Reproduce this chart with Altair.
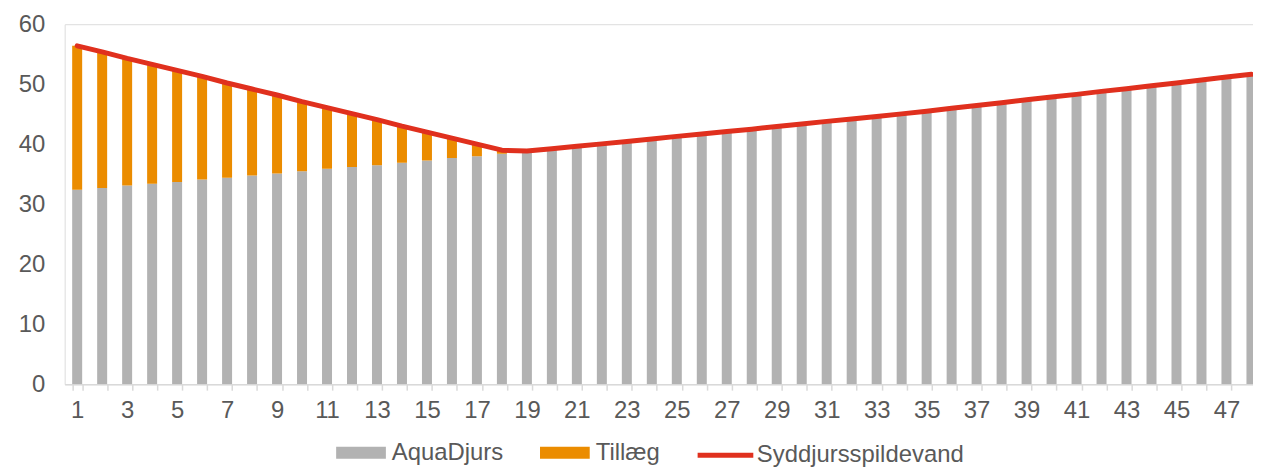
import altair as alt
import pandas as pd

# ---------------- data ----------------
periods = list(range(1, 49))

aquadjurs = [32.4, 32.7, 33.1, 33.4, 33.7, 34.1, 34.4, 34.8, 35.1, 35.5,
             35.9, 36.2, 36.5, 36.9, 37.3, 37.7, 38.0, 38.4,
             38.85, 39.25, 39.65, 40.05, 40.45, 40.85, 41.3, 41.7, 42.1, 42.5,
             42.95, 43.35, 43.8, 44.2, 44.6, 45.05, 45.5, 46.0, 46.45, 46.9,
             47.4, 47.85, 48.3, 48.8, 49.25, 49.75, 50.2, 50.7, 51.2, 51.65]

tillaeg = [24.0, 22.7, 21.2, 19.9, 18.6, 17.2, 15.8, 14.4, 13.1, 11.6,
           10.2, 8.9, 7.6, 6.1, 4.7, 3.3, 2.0, 0.6,
           0, 0, 0, 0, 0, 0, 0, 0, 0, 0,
           0, 0, 0, 0, 0, 0, 0, 0, 0, 0,
           0, 0, 0, 0, 0, 0, 0, 0, 0, 0]

syddjurs = [56.4, 55.4, 54.3, 53.3, 52.3, 51.3, 50.2, 49.2, 48.2, 47.1,
            46.1, 45.1, 44.1, 43.0, 42.0, 41.0, 40.0, 39.0,
            38.85, 39.25, 39.65, 40.05, 40.45, 40.85, 41.3, 41.7, 42.1, 42.5,
            42.95, 43.35, 43.8, 44.2, 44.6, 45.05, 45.5, 46.0, 46.45, 46.9,
            47.4, 47.85, 48.3, 48.8, 49.25, 49.75, 50.2, 50.7, 51.2, 51.65]

bar_series = ["AquaDjurs", "Tillæg"]
line_series = ["Syddjursspildevand"]
y_ticks = [0, 10, 20, 30, 40, 50, 60]

GRAY = "#b2b2b2"
ORANGE = "#eb8c00"
RED = "#e0301e"
TEXT = "#595959"
AXIS = "#d9d9d9"
FONT = "Liberation Sans"
FS = 24

rows = []
for i, p in enumerate(periods):
    rows.append({"periode": p, "serie": bar_series[0], "vaerdi": aquadjurs[i], "orden": 0})
    rows.append({"periode": p, "serie": bar_series[1], "vaerdi": tillaeg[i], "orden": 1})
bars_df = pd.DataFrame(rows)
line_df = pd.DataFrame({"periode": periods, "serie": line_series[0], "vaerdi": syddjurs})

x_enc = alt.X(
    "periode:O",
    scale=alt.Scale(domain=periods, range=[0, 1206], paddingInner=0.6, paddingOuter=0.3),
    axis=alt.Axis(
        title=None, labelAngle=0, labelFontSize=FS, labelColor=TEXT, labelFont=FONT,
        labelPadding=9, labelOverlap=False, labelFlush=False,
        labelExpr="datum.value % 2 == 1 ? datum.label : ''",
        domainColor=AXIS, domainWidth=1.5, tickColor=AXIS, tickWidth=1.5, tickSize=6,
        tickBand="extent", grid=False,
    ),
)
y_scale = alt.Scale(domain=[0, 60], nice=False)
y_axis = alt.Axis(
    title=None, values=y_ticks, domain=False, ticks=False, grid=False,
    labelFontSize=FS, labelColor=TEXT, labelFont=FONT, labelPadding=20,
)

bars = alt.Chart(bars_df).mark_bar(clip=True).encode(
    x=x_enc,
    y=alt.Y("sum(vaerdi):Q", scale=y_scale, axis=y_axis, stack="zero"),
    color=alt.Color(
        "serie:N",
        scale=alt.Scale(domain=bar_series, range=[GRAY, ORANGE]),
        legend=alt.Legend(
            orient="none", legendX=273, legendY=406, direction="horizontal", title=None,
            symbolType="M-1,-0.24L1,-0.24L1,0.24L-1,0.24Z", symbolSize=2500,
            symbolStrokeWidth=0, labelFontSize=FS, labelColor=TEXT, labelFont=FONT,
            labelOffset=6, columnPadding=36, padding=0, labelLimit=0,
        ),
    ),
    order=alt.Order("orden:Q"),
)

line = alt.Chart(line_df).mark_line(
    strokeWidth=5, strokeCap="round", strokeJoin="round", clip=True
).encode(
    x=x_enc,
    y=alt.Y("vaerdi:Q", scale=y_scale, axis=y_axis),
    stroke=alt.Stroke(
        "serie:N",
        scale=alt.Scale(domain=line_series, range=[RED]),
        legend=alt.Legend(
            orient="none", legendX=634, legendY=403, title=None,
            symbolType="stroke", symbolSize=3136, symbolStrokeWidth=5,
            labelFontSize=FS, labelColor=TEXT, labelFont=FONT, labelOffset=1,
            padding=0, labelLimit=0,
        ),
    ),
)

chart = alt.layer(bars, line).properties(
    width=1195,
    height=362,
    padding={"left": 57, "top": 15, "right": 0, "bottom": 82},
    autosize=alt.AutoSizeParams(type="none"),
).configure_view(stroke=None).configure(font=FONT)

chart.save("out.html", embed_options={"renderer": "svg", "actions": False})
